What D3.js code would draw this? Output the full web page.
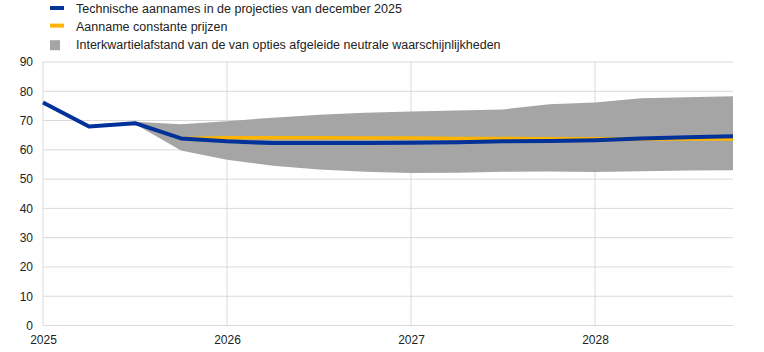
<!DOCTYPE html>
<html>
<head>
<meta charset="utf-8">
<script src="https://cdn.jsdelivr.net/npm/d3@7"></script>
<style>
  body { margin: 0; background: #fff; }
  svg { display: block; font-family: Arial, "Liberation Sans", sans-serif; }
</style>
</head>
<body>
<div id="chart"></div>
<script>
// quarterly points, 2025 Q1 .. 2028 Q4
const quarters = d3.range(16);
const yearTicks = [0, 4, 8, 12];
const yearLabels = ["2025", "2026", "2027", "2028"];

// technical assumptions (blue)
const projection = [76.2, 68.0, 69.1, 63.9, 62.9, 62.3, 62.3, 62.3, 62.4, 62.6, 62.9, 63.0, 63.3, 63.9, 64.3, 64.6];
// constant prices (yellow), starts at Q4 2025
const constantPrices = [null, null, null, 63.9, 64.1, 64.1, 64.1, 64.0, 64.0, 63.9, 63.9, 63.8, 63.8, 63.7, 63.7, 63.7];
// interquartile range (grey band)
const bandLower = [null, 68.0, 68.8, 59.8, 56.6, 54.6, 53.3, 52.5, 52.1, 52.2, 52.5, 52.6, 52.4, 52.7, 52.9, 53.0];
const bandUpper = [null, 68.0, 69.6, 68.7, 69.8, 71.0, 72.0, 72.7, 73.1, 73.4, 73.8, 75.6, 76.2, 77.6, 78.0, 78.3];

const legendItems = [
  { label: "Technische aannames in de projecties van december 2025", type: "line", color: "#003299" },
  { label: "Aanname constante prijzen", type: "line", color: "#ffb400" },
  { label: "Interkwartielafstand van de van opties afgeleide neutrale waarschijnlijkheden", type: "rect", color: "#a5a5a5" }
];

const width = 764, height = 352;
const margin = { top: 62, right: 31, bottom: 26.5, left: 43 };

const svg = d3.select("#chart").append("svg")
  .attr("width", width)
  .attr("height", height);

const x = d3.scaleLinear().domain([0, 15]).range([margin.left, width - margin.right]);
const y = d3.scaleLinear().domain([0, 90]).range([height - margin.bottom, margin.top]);

// gridlines
svg.append("g")
  .selectAll("line")
  .data(d3.range(0, 91, 10))
  .join("line")
  .attr("x1", margin.left)
  .attr("x2", width - margin.right)
  .attr("y1", d => y(d))
  .attr("y2", d => y(d))
  .attr("stroke", "#d9d9d9")
  .attr("stroke-width", 1);

svg.append("g")
  .selectAll("line")
  .data(yearTicks)
  .join("line")
  .attr("x1", d => x(d))
  .attr("x2", d => x(d))
  .attr("y1", y(90))
  .attr("y2", y(0))
  .attr("stroke", "#d9d9d9")
  .attr("stroke-width", 1);

// band
const band = quarters.map(i => ({ i, lo: bandLower[i], hi: bandUpper[i] })).filter(d => d.lo != null);
svg.append("path")
  .datum(band)
  .attr("fill", "#a5a5a5")
  .attr("d", d3.area().x(d => x(d.i)).y0(d => y(d.lo)).y1(d => y(d.hi)));

// constant prices line
const cp = quarters.map(i => ({ i, v: constantPrices[i] })).filter(d => d.v != null);
svg.append("path")
  .datum(cp)
  .attr("fill", "none")
  .attr("stroke", "#ffb400")
  .attr("stroke-width", 3.5)
  .attr("d", d3.line().x(d => x(d.i)).y(d => y(d.v)));

// projection line
svg.append("path")
  .datum(quarters.map(i => ({ i, v: projection[i] })))
  .attr("fill", "none")
  .attr("stroke", "#003299")
  .attr("stroke-width", 4)
  .attr("stroke-linejoin", "round")
  .attr("d", d3.line().x(d => x(d.i)).y(d => y(d.v)));

// y axis labels
const yAxis = svg.append("g")
  .attr("transform", `translate(${margin.left},0)`)
  .call(d3.axisLeft(y).tickValues(d3.range(0, 91, 10)).tickSize(0).tickPadding(10));
yAxis.select(".domain").remove();
yAxis.selectAll("text").attr("font-size", 12).attr("fill", "#222").attr("font-family", "Arial, 'Liberation Sans', sans-serif");

// x axis labels
const xAxis = svg.append("g")
  .attr("transform", `translate(0,${y(0)})`)
  .call(d3.axisBottom(x).tickValues(yearTicks).tickFormat((d, i) => yearLabels[i]).tickSize(0).tickPadding(10));
xAxis.select(".domain").remove();
xAxis.selectAll("text").attr("font-size", 12).attr("fill", "#222").attr("font-family", "Arial, 'Liberation Sans', sans-serif");

// legend
const legend = svg.append("g");
const rows = legend.selectAll("g")
  .data(legendItems)
  .join("g")
  .attr("transform", (d, i) => `translate(50,${9 + i * 17.6})`);
rows.filter(d => d.type === "line").append("rect")
  .attr("x", 0).attr("y", -3).attr("width", 14).attr("height", 4)
  .attr("fill", d => d.color);
rows.filter(d => d.type === "rect").append("rect")
  .attr("x", 0).attr("y", -4).attr("width", 10).attr("height", 10)
  .attr("fill", d => d.color);
rows.append("text")
  .attr("x", 26)
  .attr("y", 0)
  .attr("dy", "0.35em")
  .attr("font-size", 12.5)
  .attr("fill", "#222")
  .text(d => d.label);
</script>
</body>
</html>
